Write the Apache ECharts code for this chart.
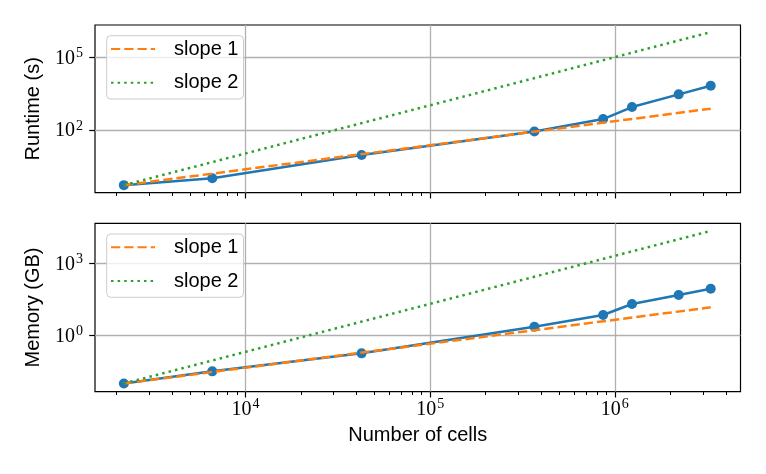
<!DOCTYPE html>
<html>
<head>
<meta charset="utf-8">
<script src="https://cdn.jsdelivr.net/npm/echarts@6/dist/echarts.min.js"></script>
<style>
html,body{margin:0;padding:0;background:#fff;}
#chart{width:766px;height:474px;}
</style>
</head>
<body>
<div id="chart"></div>
<script>
// ---- data ----
const cells = [2190, 6600, 42500, 367000, 865000, 1240000, 2220000, 3310000];
const runtime = [0.52, 1.0, 9.2, 88, 286, 900, 3030, 6890];
const memory = [0.0105, 0.0334, 0.186, 2.36, 7.2, 20.6, 48.5, 88.7];
const slopeX = [2190, 3310000];
const runtimeSlope1 = [0.52, 770];
const runtimeSlope2 = [0.52, 1150000];
const memorySlope1 = [0.0105, 15];
const memorySlope2 = [0.0105, 22000];
const xMajorTicks = [1e4, 1e5, 1e6];
const xMinorTicks = [2000, 3000, 4000, 5000, 6000, 7000, 8000, 9000,
  20000, 30000, 40000, 50000, 60000, 70000, 80000, 90000,
  200000, 300000, 400000, 500000, 600000, 700000, 800000, 900000,
  2000000, 3000000, 4000000];
const runtimeTicks = [100, 100000];
const memoryTicks = [1, 1000];
const legendNames = ['slope 1', 'slope 2'];

// ---- styling ----
const SANS = 'Liberation Sans';
const SERIF = 'Liberation Serif';
const BLUE = '#1f77b4', ORANGE = '#ff7f0e', GREEN = '#2ca02c';
const xMin = 1528, xMax = 4.8e6;

function pairs(xs, ys) { return xs.map((x, i) => [x, ys[i]]); }
function powLabel(v) {
  const e = Math.round(Math.log10(v));
  return '{b|10}{e|' + e + '}';
}
const richPow = {
  b: { fontFamily: SERIF, fontSize: 20, color: '#000', lineHeight: 22, verticalAlign: 'bottom' },
  e: { fontFamily: SERIF, fontSize: 14, color: '#000', lineHeight: 22, verticalAlign: 'top', padding: [0, 0, 6, 1] }
};

const grids = [
  { left: 95, right: 25.5, top: 25, height: 167.7 },
  { left: 95, right: 25.5, top: 223.3, height: 168.4 }
];

function majorX(gridIndex, showLabels) {
  return {
    type: 'log', gridIndex, min: xMin, max: xMax, position: 'bottom',
    axisLine: { show: false },
    axisTick: { show: true, length: 5.8, lineStyle: { color: '#000', width: 1.2 }, customValues: xMajorTicks },
    axisLabel: showLabels ? { show: true, customValues: xMajorTicks, formatter: powLabel, rich: richPow, margin: 6 } : { show: false, customValues: xMajorTicks },
    splitLine: { show: true, lineStyle: { color: '#b0b0b0', width: 1.3 } },
    minorTick: { show: false }, minorSplitLine: { show: false },
    name: showLabels ? 'Number of cells' : '',
    nameLocation: 'middle', nameGap: 34,
    nameTextStyle: { fontFamily: SANS, fontSize: 20, color: '#000' }
  };
}
function minorX(gridIndex) {
  return {
    type: 'log', gridIndex, min: xMin, max: xMax, position: 'bottom', offset: 0,
    axisLine: { show: false },
    axisTick: { show: true, length: 3.3, lineStyle: { color: '#000', width: 1 }, customValues: xMinorTicks },
    axisLabel: { show: false, customValues: xMinorTicks },
    splitLine: { show: false }
  };
}
function yAxis(gridIndex, min, max, ticks, name) {
  return {
    type: 'log', gridIndex, min, max, position: 'left',
    axisLine: { show: false },
    axisTick: { show: true, length: 5.8, lineStyle: { color: '#000', width: 1.2 }, customValues: ticks },
    axisLabel: { show: true, customValues: ticks, formatter: powLabel, rich: richPow, margin: 12 },
    splitLine: { show: true, lineStyle: { color: '#b0b0b0', width: 1.3 } },
    name, nameLocation: 'middle', nameGap: 52,
    nameTextStyle: { fontFamily: SANS, fontSize: 20, color: '#000' }
  };
}

function mainSeries(xi, yi, ys) {
  return { type: 'line', name: 'data', xAxisIndex: xi, yAxisIndex: yi, data: pairs(cells, ys),
    symbol: 'circle', symbolSize: 10, showSymbol: true,
    itemStyle: { color: BLUE }, lineStyle: { color: BLUE, width: 2.5 }, z: 2 };
}
function slopeSeries(xi, yi, name, ys, color, type) {
  return { type: 'line', name, xAxisIndex: xi, yAxisIndex: yi, data: pairs(slopeX, ys),
    symbol: 'none', itemStyle: { color }, lineStyle: { color, width: 2.5, type }, z: name === 'slope 1' ? 3 : 4 };
}
function legend(top) {
  return {
    data: legendNames, orient: 'vertical', left: 106.7, top,
    itemWidth: 44, itemHeight: 14, itemGap: 13.7,
    padding: [3.3, 5, 6.3, 3.3],
    itemStyle: { opacity: 0, borderWidth: 0 },
    borderColor: '#cccccc', borderWidth: 1, borderRadius: 4,
    backgroundColor: 'rgba(255,255,255,0.8)',
    textStyle: { fontFamily: SANS, fontSize: 20, color: '#000', lineHeight: 20, padding: [0, 0, 0, 14] },
    selectedMode: false
  };
}

const option = {
  animation: false,
  backgroundColor: '#fff',
  grid: grids.map(g => Object.assign({ show: true, borderColor: '#000', borderWidth: 1.2, backgroundColor: 'transparent' }, g)),
  xAxis: [majorX(0, false), minorX(0), majorX(1, true), minorX(1)],
  yAxis: [
    yAxis(0, 0.253, 2.275e6, runtimeTicks, 'Runtime (s)'),
    yAxis(1, 0.00479, 45500, memoryTicks, 'Memory (GB)')
  ],
  legend: [legend(35.7), legend(234)],
  series: [
    mainSeries(0, 0, runtime),
    slopeSeries(0, 0, 'slope 1', runtimeSlope1, ORANGE, [9.25, 4]),
    slopeSeries(0, 0, 'slope 2', runtimeSlope2, GREEN, [2.5, 4.1]),
    mainSeries(2, 1, memory),
    slopeSeries(2, 1, 'slope 1', memorySlope1, ORANGE, [9.25, 4]),
    slopeSeries(2, 1, 'slope 2', memorySlope2, GREEN, [2.5, 4.1])
  ]
};
const chart = echarts.init(document.getElementById('chart'), null, { renderer: 'canvas' });
chart.setOption(option);
</script>
</body>
</html>
